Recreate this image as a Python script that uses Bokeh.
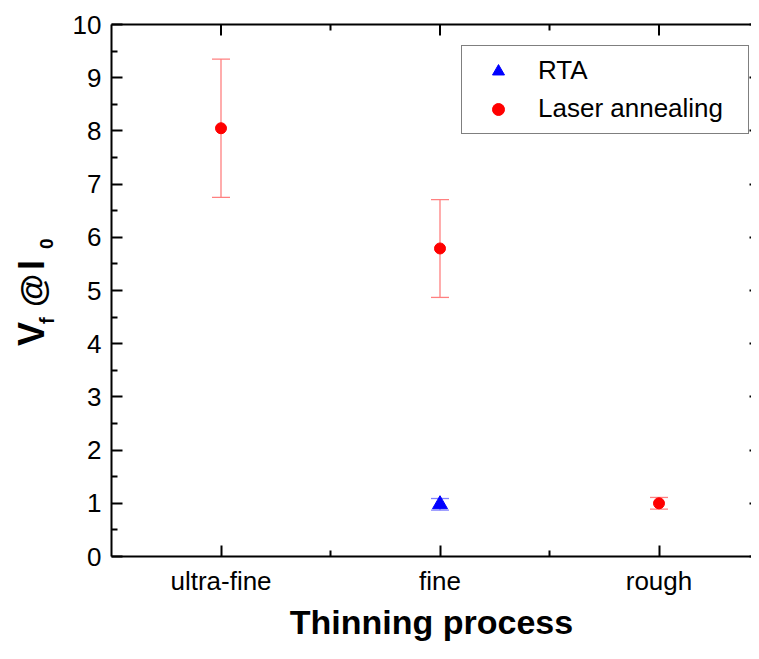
from math import pi
from bokeh.plotting import figure
from bokeh.layouts import row
from bokeh.core.properties import value
from bokeh.models import (Range1d, FixedTicker, LinearAxis, Whisker, TeeHead,
                          ColumnDataSource, Legend, LegendItem)
from bokeh.embed import file_html
from bokeh.resources import INLINE

# ---- data ----
categories = ["ultra-fine", "fine", "rough"]
cat_pos = [1, 2, 3]
minor_pos = [1.5, 2.5]

laser_cats = ["ultra-fine", "fine", "rough"]
laser_vf = [8.05, 5.79, 1.00]
laser_err = [1.30, 0.92, 0.11]

rta_cats = ["fine"]
rta_vf = [0.98]
rta_err = [0.11]

y_ticks = list(range(0, 11))
y_minor = [i + 0.5 for i in range(0, 10)]

FONT = "Liberation Sans"
pos = dict(zip(categories, cat_pos))

H = 643          # total height
W_LEFT = 60      # strip holding the rotated y title
W_MAIN = 691
FRAME_L, FRAME_T, FRAME_B = 111, 24, 557
X0 = 0.5
X1 = X0 + (W_LEFT + W_MAIN - FRAME_L) / 219.0

# ---------------- main plot ----------------
p = figure(width=W_MAIN, height=H,
           min_border_left=FRAME_L - W_LEFT, min_border_right=0,
           min_border_top=FRAME_T, min_border_bottom=H - FRAME_B,
           x_range=Range1d(X0, X1), y_range=Range1d(y_ticks[0], y_ticks[-1]),
           output_backend="svg", toolbar_location=None)
p.outline_line_color = None
p.xgrid.visible = False
p.ygrid.visible = False
p.background_fill_color = "white"
p.border_fill_color = "white"


def style_axis(ax, ticks, minor):
    ax.ticker = FixedTicker(ticks=ticks, minor_ticks=minor)
    ax.axis_line_color = "black"
    ax.axis_line_width = 2
    ax.major_tick_line_color = "black"
    ax.major_tick_line_width = 2
    ax.minor_tick_line_color = "black"
    ax.minor_tick_line_width = 2
    ax.major_tick_in = 11
    ax.major_tick_out = 0
    ax.minor_tick_in = 6
    ax.minor_tick_out = 0
    ax.major_label_text_font = FONT
    ax.major_label_text_font_size = "26px"
    ax.major_label_text_color = "black"


# bottom axis
xa = p.xaxis[0]
style_axis(xa, cat_pos, minor_pos)
xa.major_label_overrides = {c: lab for c, lab in zip(cat_pos, categories)}
xa.major_label_standoff = 9
xa.axis_label = "Thinning process"
xa.axis_label_text_font = FONT
xa.axis_label_text_font_size = "34px"
xa.axis_label_text_font_style = "bold"
xa.axis_label_text_color = "black"
xa.axis_label_standoff = 4

# left axis
ya = p.yaxis[0]
style_axis(ya, y_ticks, y_minor)
ya.major_label_standoff = 10

# top axis: line + minor ticks only (no labels)
ta = LinearAxis()
style_axis(ta, [], minor_pos)
ta.major_label_standoff = 0
p.add_layout(ta, "above")

# right axis: only short tick stubs at the window edge
ra = LinearAxis()
style_axis(ra, [], y_ticks)
ra.axis_line_color = None
ra.minor_tick_in = 2
ra.major_label_standoff = 0
p.add_layout(ra, "right")

# top major ticks (inward; the frame clips the outer half)
p.scatter(x=cat_pos, y=[y_ticks[-1]] * len(cat_pos), marker="dash", angle=pi / 2,
          size=22, line_color="black", line_width=2)

# ---- data sources ----
src_laser = ColumnDataSource(dict(
    x=[pos[c] for c in laser_cats], y=laser_vf,
    upper=[v + e for v, e in zip(laser_vf, laser_err)],
    lower=[v - e for v, e in zip(laser_vf, laser_err)]))
src_rta = ColumnDataSource(dict(
    x=[pos[c] for c in rta_cats], y=rta_vf,
    upper=[v + e for v, e in zip(rta_vf, rta_err)],
    lower=[v - e for v, e in zip(rta_vf, rta_err)]))

for src, col in ((src_laser, "#ff8080"), (src_rta, "#8080ff")):
    w = Whisker(base="x", upper="upper", lower="lower", source=src,
                line_color=col, line_width=1.3,
                upper_head=TeeHead(size=18, line_color=col, line_width=1.3),
                lower_head=TeeHead(size=18, line_color=col, line_width=1.3))
    p.add_layout(w)

r_rta = p.scatter("x", "y", source=src_rta, marker="triangle", size=15,
                  fill_color="#0000ff", line_color="#0000ff")
r_laser = p.scatter("x", "y", source=src_laser, marker="circle", size=11,
                    fill_color="#ff0000", line_color="#ff0000")

legend = Legend(items=[LegendItem(label="RTA", renderers=[r_rta]),
                       LegendItem(label="Laser annealing", renderers=[r_laser])],
                location=(350, 422), orientation="vertical",
                border_line_color="black", border_line_width=1.5,
                background_fill_color="white", background_fill_alpha=1,
                padding=9, spacing=7, margin=0,
                glyph_width=54, glyph_height=30, label_height=30, label_width=201,
                label_standoff=13,
                label_text_font=FONT, label_text_font_size="26px",
                label_text_color="black", label_text_baseline="middle")
p.add_layout(legend)

# ---------------- left strip: rotated title  V_f @ I_0 ----------------
# In a row, Bokeh aligns this strip's frame with the main frame (rows FRAME_T..FRAME_B),
# so its y range spans exactly that band, in picture pixels counted from the bottom.
t = figure(width=W_LEFT, height=H, x_range=Range1d(0, W_LEFT),
           y_range=Range1d(H - FRAME_B, H - FRAME_T),
           min_border_left=0, min_border_right=0,
           min_border_top=FRAME_T, min_border_bottom=H - FRAME_B,
           x_axis_location=None, y_axis_location=None,
           output_backend="svg", toolbar_location=None)
t.outline_line_color = None
t.xgrid.visible = False
t.ygrid.visible = False
t.border_fill_color = "white"
t.background_fill_color = "white"

# (text, centre x, centre y in picture pixels, font size) -- centred anchors
title_main = [("V", 30.5, 334, "36px"), ("@", 31.2, 290.5, "34px"), ("I", 30.5, 265, "36px")]
title_sub = [("f", 46.1, 320.7, "20px"), ("0", 46.4, 243.7, "19px")]
for txt, cx, cy, fs in title_main + title_sub:
    t.text(x=[cx], y=[H - cy], text=[txt], angle=pi / 2,
           text_align="center", text_baseline="middle",
           text_font=value(FONT), text_font_size=fs, text_font_style="bold",
           text_color="black")

layout = row(t, p, spacing=0)
open("out.html", "w").write(file_html(layout, INLINE))
